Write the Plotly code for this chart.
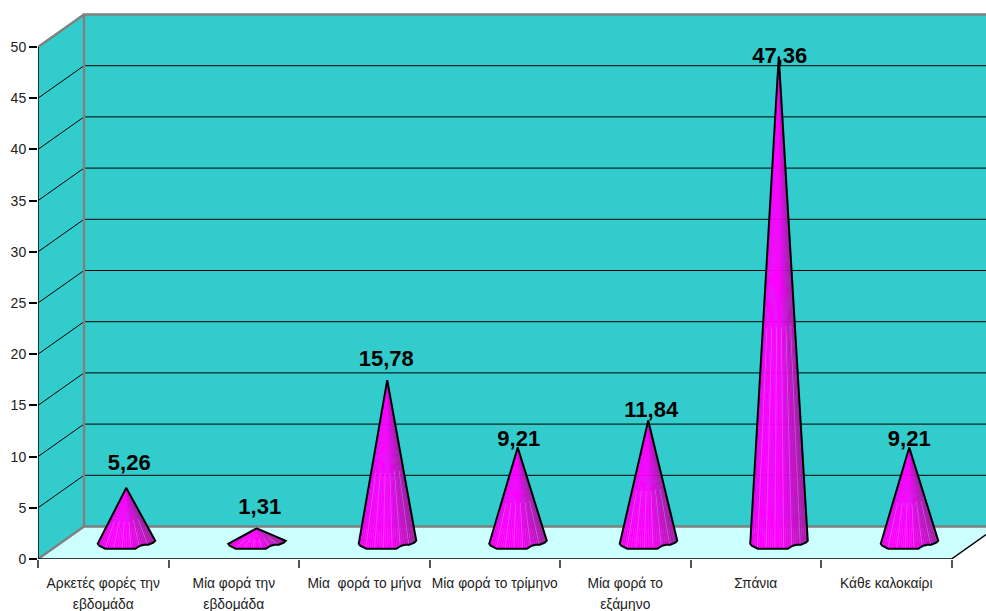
import numpy as np
import plotly.graph_objects as go

categories = ["Αρκετές φορές την<br>εβδομάδα", "Μία φορά την<br>εβδομάδα", "Μία  φορά το μήνα",
              "Μία φορά το τρίμηνο", "Μία φορά το<br>εξάμηνο", "Σπάνια", "Κάθε καλοκαίρι"]
values = [5.26, 1.31, 15.78, 9.21, 11.84, 47.36, 9.21]
y_ticks = [0, 5, 10, 15, 20, 25, 30, 35, 40, 45, 50]

label_lift_px = [23, 20, 20, 7, 9, -1, 7]
label_shift_px = [3, 3, -1, 1, 3, 1, 0]

SX, SY = 130.5, 10.24          # pixels per category / per value unit
DX, DY = 46 / SX, 32.5 / SY    # oblique depth of the floor in axis units
X_MAX = 948 / SX
Y_MAX = 547 / SY
N = len(categories)
TEAL, FLOOR, GREY = "#33CCCC", "#CCFFFF", "#808080"

# outline of the cone foot, pixels relative to its centre (x right, y down)
rim_x = np.array([-28.5, -27, -21, 9, 14, 18, 22, 27, 29])
rim_y = np.array([2, 4, 7, 7, 4, 3, 3, 1, -1])

fig = go.Figure()


def poly(xs, ys, fill=None, line=None, width=1):
    fig.add_trace(go.Scatter(
        x=xs, y=ys, mode="lines", fill="toself" if fill else "none", fillcolor=fill,
        line=dict(color=line or "rgba(0,0,0,0)", width=width),
        hoverinfo="skip", cliponaxis=False if line == "#000000" and width > 1.5 else True))


# walls and floor
poly([0, 0, DX, DX], [0, 50, 50 + DY, DY], fill=TEAL)
poly([DX, DX, X_MAX + 1, X_MAX + 1], [DY, 50 + DY, 50 + DY, DY], fill=TEAL)
poly([0, DX, N + DX, N], [0, DY, DY, 0], fill=FLOOR)

# grid lines
for v in y_ticks[1:-1]:
    poly([0, DX, X_MAX + 1], [v, v + DY, v + DY], line="#000000", width=1)

# wall frame
poly([0, DX, DX, DX, X_MAX + 1], [50, 50 + DY, DY, 50 + DY, 50 + DY], line=GREY, width=2.5)
poly([0, DX, X_MAX + 1], [0, DY, DY], line=GREY, width=2.5)

# front edges
poly([0, 0], [0, 50], line="#000000", width=1.5)
poly([0, N, N + DX], [0, 0, DY], line="#000000", width=1.5)

# cones: one trace per facet shade
t_rim = np.r_[0, np.cumsum(np.hypot(np.diff(rim_x), np.diff(rim_y)))]
t_new = np.linspace(0, t_rim[-1], 29)
fx, fy = np.interp(t_new, t_rim, rim_x), np.interp(t_new, t_rim, rim_y)
centres = [i + 0.5 + DX / 2 for i in range(N)]
floor_y = DY / 2 + 1 / SY


def shade(u):
    stops = [(-1, (232, 0, 232)), (-0.6, (255, 0, 255)), (0.05, (255, 0, 255)), (0.55, (208, 14, 208)), (1, (160, 30, 160))]
    us = [s[0] for s in stops]
    rgb = [np.interp(u, us, [s[1][k] for s in stops]) for k in range(3)]
    return "rgb(%d,%d,%d)" % tuple(rgb)


for k in range(len(fx) - 1):
    xs, ys = [], []
    for c, v in zip(centres, values):
        xs += [c + fx[k] / SX, c, c + fx[k + 1] / SX, c + fx[k] / SX, None]
        ys += [floor_y - fy[k] / SY, floor_y + v, floor_y - fy[k + 1] / SY, floor_y - fy[k] / SY, None]
    u = (fx[k] + fx[k + 1]) / 2 / 29
    col = shade(u)
    fig.add_trace(go.Scatter(x=xs, y=ys, mode="lines", fill="toself", fillcolor=col,
                             line=dict(color=col, width=0.4), hoverinfo="skip"))

# pale streaks between facets
xs, ys = [], []
for c, v in zip(centres, values):
    for k in range(4, len(fx) - 1, 4):
        x0, y0 = c + fx[k] / SX, floor_y - fy[k] / SY
        xs += [x0, x0 + (c - x0) * 0.45, None]
        ys += [y0, y0 + (floor_y + v - y0) * 0.45, None]
fig.add_trace(go.Scatter(x=xs, y=ys, mode="lines", line=dict(color="rgba(255,190,255,0.4)", width=0.7), hoverinfo="skip"))

# cone outlines
xs, ys = [], []
for c, v in zip(centres, values):
    xs += [c] + list(c + rim_x / SX) + [c, None]
    ys += [floor_y + v] + list(floor_y - rim_y / SY) + [floor_y + v, None]
fig.add_trace(go.Scatter(x=xs, y=ys, mode="lines", line=dict(color="#000000", width=2), hoverinfo="skip"))

# value labels
fig.add_trace(go.Scatter(
    x=[c + s / SX for c, s in zip(centres, label_shift_px)],
    y=[floor_y + v + l / SY for v, l in zip(values, label_lift_px)],
    mode="text", text=[f"{v:.2f}".replace(".", ",") for v in values],
    textposition="middle center", hoverinfo="skip",
    textfont=dict(family="Liberation Sans, Arial", size=22, color="#000000", weight="bold")))

fig.update_layout(
    width=986, height=611, autosize=False, showlegend=False,
    paper_bgcolor="#FFFFFF", plot_bgcolor="#FFFFFF",
    margin=dict(l=38, r=0, t=12, b=52, pad=0),
    xaxis=dict(range=[0, X_MAX], showgrid=False, zeroline=False, showline=False,
               tickmode="array", tickvals=[i + 0.5 for i in range(N)],
               ticktext=[f'<span style="font-size:13.8px">{c}</span>' for c in categories],
               ticks="", tickangle=0, ticklabelstandoff=12,
               tickfont=dict(family="Liberation Sans, Arial", size=16, color="#222222"),
               minor=dict(ticks="outside", tickmode="array", tickvals=list(range(N + 1)),
                          ticklen=8, tickcolor="#555555", tickwidth=1.5, showgrid=False)),
    yaxis=dict(range=[0, Y_MAX], showgrid=False, zeroline=False, showline=False,
               tickmode="array", tickvals=y_ticks, ticktext=[str(v) for v in y_ticks],
               ticks="outside", ticklen=8, tickcolor="#000000", tickwidth=1.5,
               tickfont=dict(family="Liberation Sans, Arial", size=14, color="#222222")),
)

fig.write_html("out.html", config={"displayModeBar": False},
               post_script="document.body.style.margin='0';")
